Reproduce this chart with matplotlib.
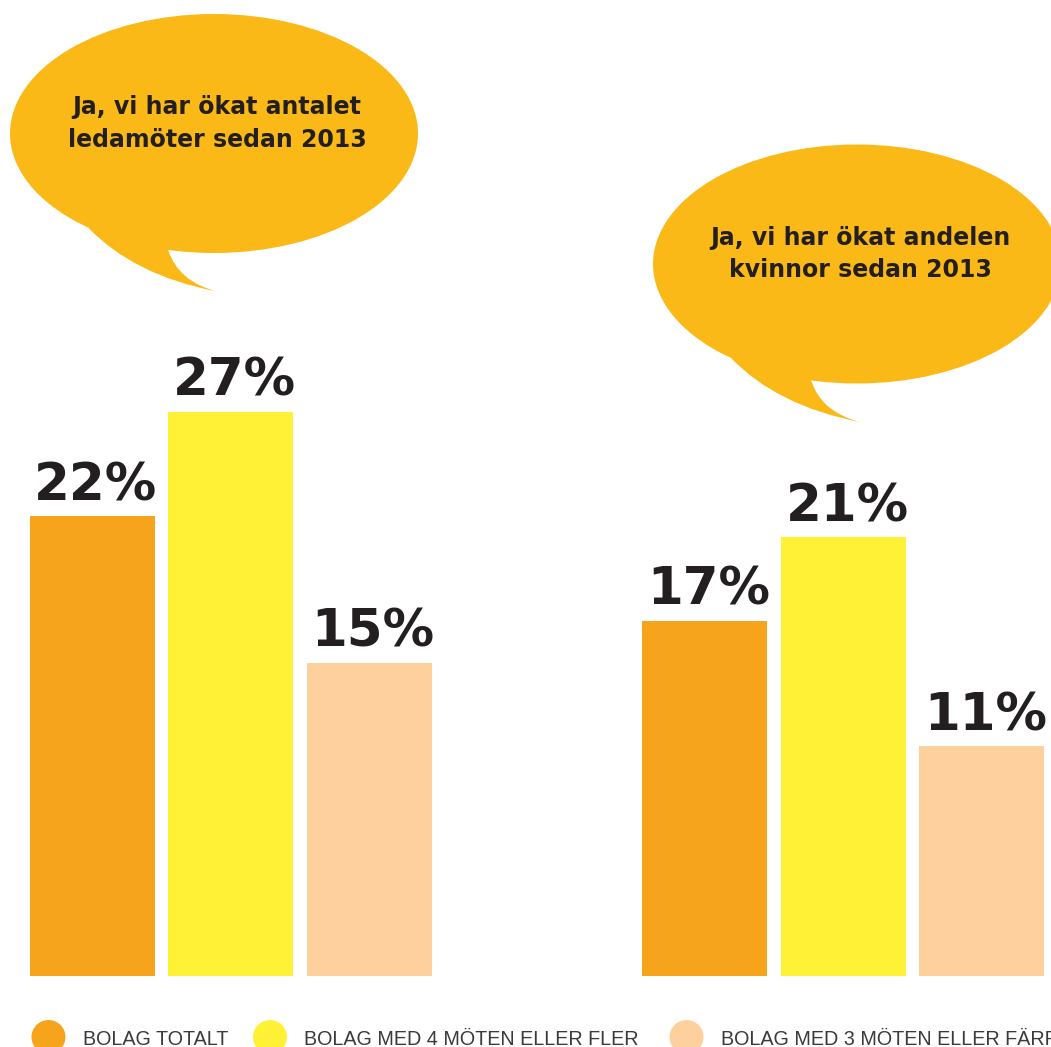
import matplotlib
matplotlib.use("Agg")
import matplotlib.pyplot as plt
from matplotlib.patches import Ellipse, Circle, PathPatch
from matplotlib.path import Path

#data
categories = ["BOLAG TOTALT", "BOLAG MED 4 MÖTEN ELLER FLER", "BOLAG MED 3 MÖTEN ELLER FÄRRE"]
values_ledamoter = [22, 27, 15]
values_kvinnor = [17, 21, 11]
bubble_texts = ["Ja, vi har ökat antalet\nledamöter sedan 2013",
                "Ja, vi har ökat andelen\nkvinnor sedan 2013"]

#colors
BAR_COLORS = ["#F7A41D", "#FFF135", "#FDD09D"]
BUBBLE = "#FBB918"
DARK = "#231F20"
LEGEND_TEXT = "#3A3A3A"

W, H = 1051, 1047
fig = plt.figure(figsize=(W / 100, H / 100), dpi=100)

#main axes, x in pixels, y in percent
px_per_pct = 20.9
base_px = H - 976
ax = fig.add_axes([0, 0, 1, 1])
ax.set_xlim(0, W)
ax.set_ylim(-base_px / px_per_pct, (H - base_px) / px_per_pct)
ax.axis("off")

group_starts = [92, 704.5]
step = 138.5
bar_w = 125
for g, vals in enumerate([values_ledamoter, values_kvinnor]):
    for i, v in enumerate(vals):
        x = group_starts[g] + i * step
        ax.bar(x, v, width=bar_w, color=BAR_COLORS[i], linewidth=0)
        ax.text(x + 4, v + 16 / px_per_pct, f"{v}%", ha="center", va="baseline",
                fontsize=37, fontweight="bold", color=DARK)

#decoration axes in pixel coords (y down)
deco = fig.add_axes([0, 0, 1, 1], zorder=-1)
deco.set_xlim(0, W)
deco.set_ylim(H, 0)
deco.axis("off")

bubble_centers = [(214, 133.5), (857, 264)]
for (cx, cy), txt in zip(bubble_centers, bubble_texts):
    deco.add_patch(Ellipse((cx, cy), 408, 239, color=BUBBLE, linewidth=0))
    verts = [(cx - 126, cy + 94), (cx - 80, cy + 142), (cx + 3, cy + 158),
             (cx - 36, cy + 148), (cx - 46, cy + 116), (cx - 126, cy + 94)]
    codes = [Path.MOVETO, Path.CURVE3, Path.CURVE3, Path.CURVE3, Path.CURVE3, Path.CLOSEPOLY]
    deco.add_patch(PathPatch(Path(verts, codes), color=BUBBLE, linewidth=0))
    deco.text(cx + 3, cy - 10, txt, ha="center", va="center", fontsize=17,
              fontweight="bold", color=DARK, linespacing=1.45)

#legend (last label runs off the right edge, as in the original)
legend_x = [48.5, 270, 686.5]
for lx, cat, col in zip(legend_x, categories, BAR_COLORS):
    deco.add_patch(Circle((lx, 1037), 17, color=col, linewidth=0, clip_on=False))
    deco.text(lx + 34.5, 1045, cat, ha="left", va="baseline", fontsize=14.2,
              family="Liberation Sans", color=LEGEND_TEXT, clip_on=False)

fig.savefig("out.png", dpi=100)
